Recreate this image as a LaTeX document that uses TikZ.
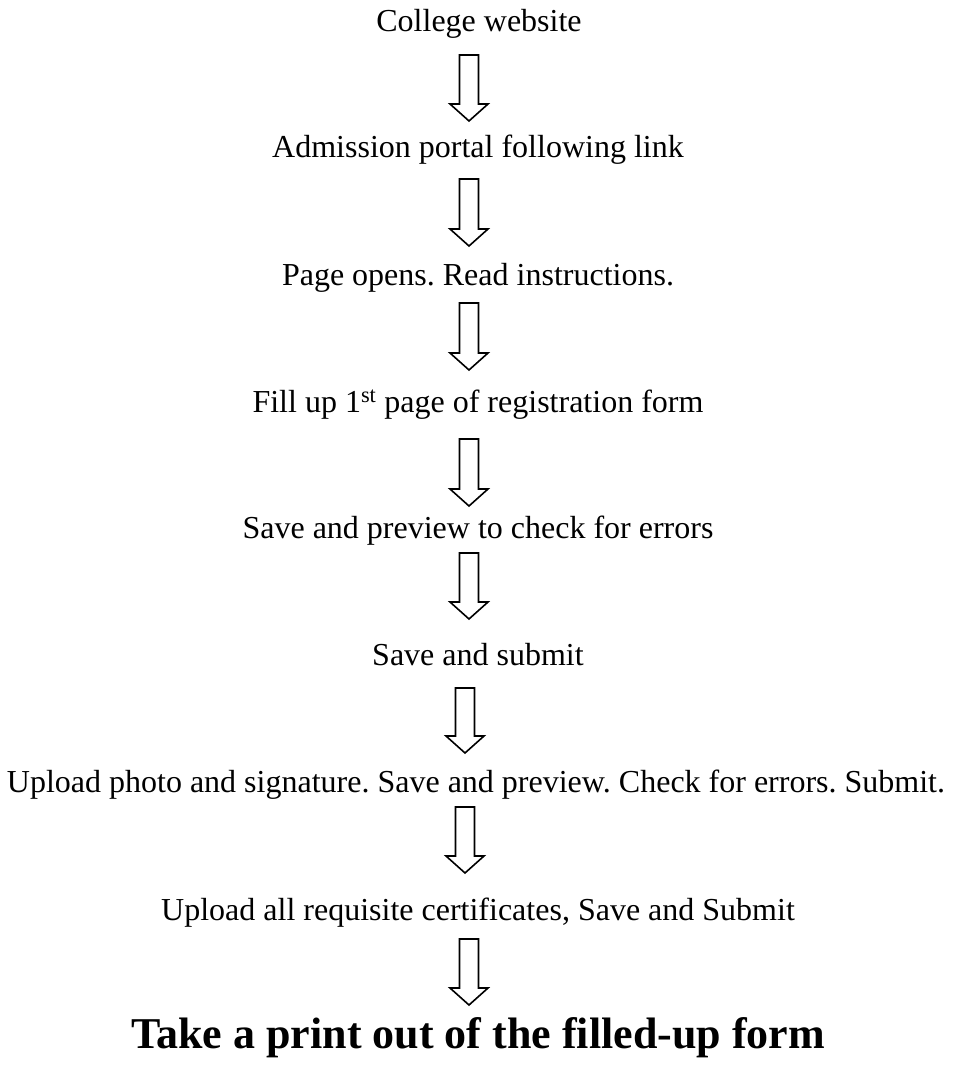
\documentclass[tikz,border=0pt]{standalone}
\usepackage{fontspec}
\setmainfont{Liberation Serif}
\usepackage{tikz}
\usetikzlibrary{calc}
\frenchspacing
\newcommand{\blockarrow}[2]{%
  \draw[hollow] let \p1=(#1), \p2=(#2) in
    (\x1-9.5pt,\y1) -- (\x1+9.5pt,\y1) -- (\x1+9.5pt,\y2+17pt)
    -- (\x1+19pt,\y2+17pt) -- (\x2,\y2) -- (\x1-19pt,\y2+17pt)
    -- (\x1-9.5pt,\y2+17pt) -- cycle;}

\begin{document}
\begin{tikzpicture}[x=1pt, y=-1pt,
    stage/.style={anchor=base, inner sep=0pt, font=\fontsize{32}{38}\selectfont},
    final/.style={anchor=base, inner sep=0pt, font=\fontsize{44}{52}\selectfont\bfseries},
    hollow/.style={line width=1.6pt, line join=miter, fill=white}]
    \useasboundingbox (0,0) rectangle (954,1065);

    % Steps
    \node[stage] (cw) at (479,32)  {College website};
    \node[stage] (ap) at (478,157) {Admission portal following link};
    \node[stage] (po) at (478,285) {Page opens. Read instructions.};
    \node[stage] (fu) at (478,412) {Fill up 1\textsuperscript{st} page of registration form};
    \node[stage] (sp) at (478,538) {Save and preview to check for errors};
    \node[stage] (ss) at (478,665) {Save and submit};
    \node[stage] (up) at (476,792) {Upload photo and signature. Save and preview. Check for errors. Submit.};
    \node[stage] (uc) at (478,920) {Upload all requisite certificates, Save and Submit};
    \node[final] (pr) at (478,1048) {Take a print out of the filled-up form};

    % Arrow ends
    \coordinate (s1) at (469,55);  \coordinate (e1) at (469,121);
    \coordinate (s2) at (469,179); \coordinate (e2) at (469,246);
    \coordinate (s3) at (469,303); \coordinate (e3) at (469,370);
    \coordinate (s4) at (469,439); \coordinate (e4) at (469,506);
    \coordinate (s5) at (469,553); \coordinate (e5) at (469,619);
    \coordinate (s6) at (465,688); \coordinate (e6) at (465,753);
    \coordinate (s7) at (465,807); \coordinate (e7) at (465,873);
    \coordinate (s8) at (469,939); \coordinate (e8) at (469,1005);

    % Arrows
    \foreach \i in {1,...,8} {\blockarrow{s\i}{e\i}}
\end{tikzpicture}
\end{document}
